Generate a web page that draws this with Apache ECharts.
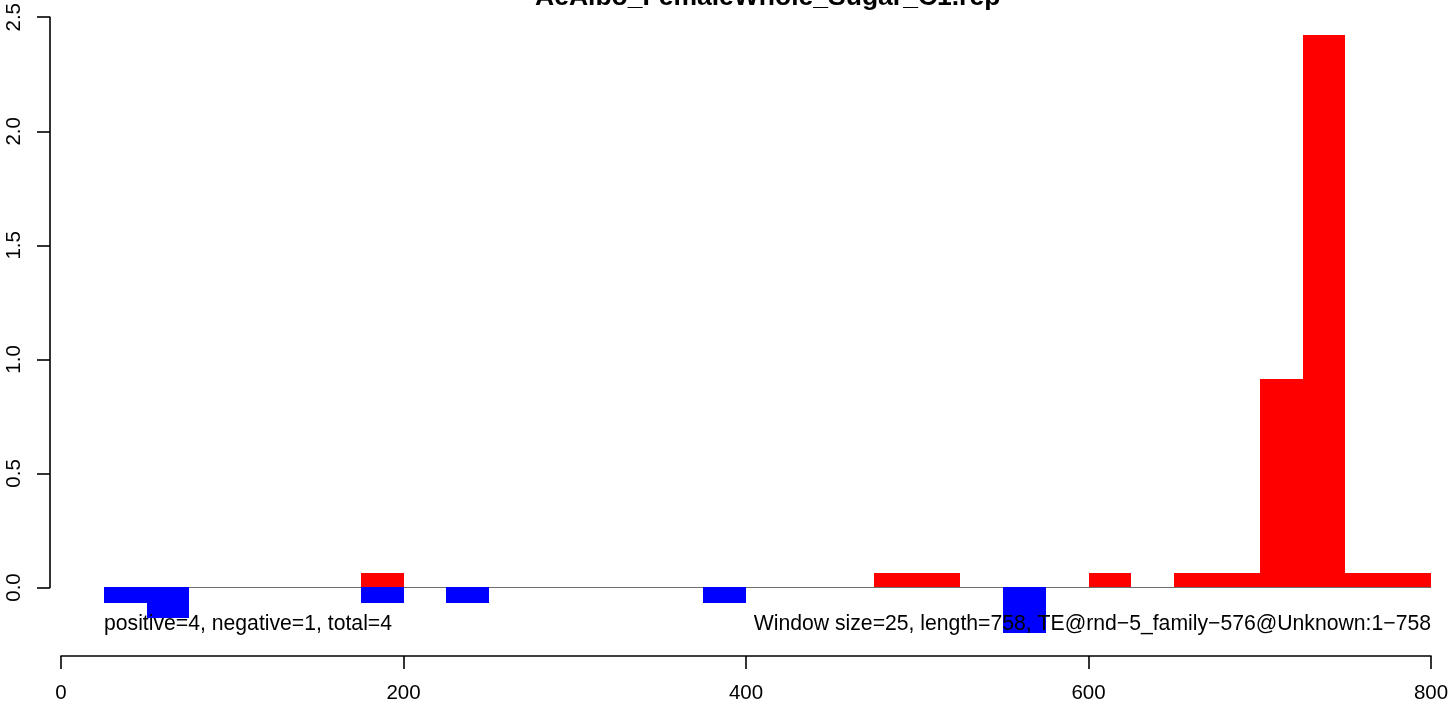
<!DOCTYPE html>
<html>
<head>
<meta charset="utf-8">
<script src="https://cdn.jsdelivr.net/npm/echarts@6/dist/echarts.min.js"></script>
<style>
html,body{margin:0;padding:0;background:#fff;}
#chart{width:1452px;height:707px;}
</style>
</head>
<body>
<div id="chart"></div>
<script>
// ---- data ----
const chartTitle = "AeAlbo_FemaleWhole_Sugar_C1.rep";
const leftNote = "positive=4, negative=1, total=4";
const rightNote = "Window size=25, length=758, TE@rnd\u22125_family\u2212576@Unknown:1\u2212758";
const windowSize = 25;
const windowStart = [25,50,75,100,125,150,175,200,225,250,275,300,325,350,375,400,425,450,475,500,525,550,575,600,625,650,675,700,725,750,775];
const posValues   = [0,0,0,0,0,0,0.062,0,0,0,0,0,0,0,0,0,0,0,0.062,0.062,0,0,0,0.062,0,0.062,0.062,0.912,2.418,0.062,0.062];
const negValues   = [-0.068,-0.133,0,0,0,0,-0.068,0,-0.068,0,0,0,0,0,-0.068,0,0,0,0,0,0,-0.198,0,0,0,0,0,0,0,0,0];
const xTicks = [0,200,400,600,800];
const yTicks = [0,0.5,1,1.5,2,2.5];

const FONT = "'Liberation Sans', Arial, Helvetica, sans-serif";
const data = windowStart.map((s, i) => [s, posValues[i], negValues[i]]);

const chart = echarts.init(document.getElementById('chart'), null, {renderer: 'canvas'});
const option = {
  backgroundColor: '#ffffff',
  animation: false,
  title: [
    {text: chartTitle, left: 535, top: -15, padding: 0,
     textStyle: {fontFamily: FONT, fontSize: 26.5, fontWeight: 'bold', color: '#000', lineHeight: 26}},
    {text: leftNote, left: 104, top: 614, padding: 0, z: 10,
     textStyle: {fontFamily: FONT, fontSize: 21.2, fontWeight: 'normal', color: '#000', lineHeight: 21}},
    {text: rightNote, right: 21, top: 614, padding: 0, z: 10,
     textStyle: {fontFamily: FONT, fontSize: 21.2, fontWeight: 'normal', color: '#000', lineHeight: 21}}
  ],
  grid: [
    {left: 61, right: 21, top: 16, bottom: 51, containLabel: false},
    {left: 50, width: 10, top: 16, bottom: 119.5, containLabel: false}
  ],
  xAxis: [
    {type: 'value', gridIndex: 0, min: xTicks[0], max: xTicks[xTicks.length-1], interval: 200,
     axisLine: {show: true, onZero: false, lineStyle: {color: '#000', width: 1.6}},
     axisTick: {show: true, inside: false, length: 13, lineStyle: {color: '#000', width: 1.6}},
     axisLabel: {show: true, margin: 27, color: '#000', fontFamily: FONT, fontSize: 20.5,
                 showMinLabel: true, showMaxLabel: true},
     splitLine: {show: false}},
    {type: 'value', gridIndex: 1, min: 0, max: 1, show: false}
  ],
  yAxis: [
    {type: 'value', gridIndex: 0, min: -0.3, max: 2.5, show: false, splitLine: {show: false}},
    {type: 'value', gridIndex: 1, min: yTicks[0], max: yTicks[yTicks.length-1], interval: 0.5, position: 'left',
     axisLine: {show: true, onZero: false, lineStyle: {color: '#000', width: 1.6}},
     axisTick: {show: true, inside: false, length: 13, lineStyle: {color: '#000', width: 1.6}},
     axisLabel: {show: true, rotate: 90, margin: 25, color: '#000', fontFamily: FONT, fontSize: 20.5,
                 showMinLabel: true, showMaxLabel: true,
                 formatter: v => v.toFixed(1)},
     splitLine: {show: false}}
  ],
  series: [{
    type: 'custom',
    xAxisIndex: 0, yAxisIndex: 0,
    data: data,
    dimensions: ['start', 'pos', 'neg'],
    encode: {x: 0, y: [1, 2]},
    clip: false,
    renderItem: function (params, api) {
      const s = api.value(0), p = api.value(1), n = api.value(2);
      const a0 = api.coord([s, 0]);
      const a1 = api.coord([s + windowSize, 0]);
      const x0 = Math.round(a0[0]), x1 = Math.round(a1[0]), y0 = Math.round(a0[1]);
      const children = [{
        type: 'line',
        shape: {x1: x0, y1: y0 + 0.5, x2: x1, y2: y0 + 0.5},
        style: {stroke: '#6e6e6e', lineWidth: 1}
      }];
      if (p > 0) {
        const t = Math.round(api.coord([s, p])[1]);
        children.push({type: 'rect', shape: {x: x0, y: t, width: x1 - x0, height: y0 - t},
                       style: {fill: '#ff0000'}});
      }
      if (n < 0) {
        const b = Math.round(api.coord([s, n])[1]);
        children.push({type: 'rect', shape: {x: x0, y: y0, width: x1 - x0, height: b - y0},
                       style: {fill: '#0000ff'}});
      }
      return {type: 'group', children: children};
    }
  }]
};
chart.setOption(option);
</script>
</body>
</html>
